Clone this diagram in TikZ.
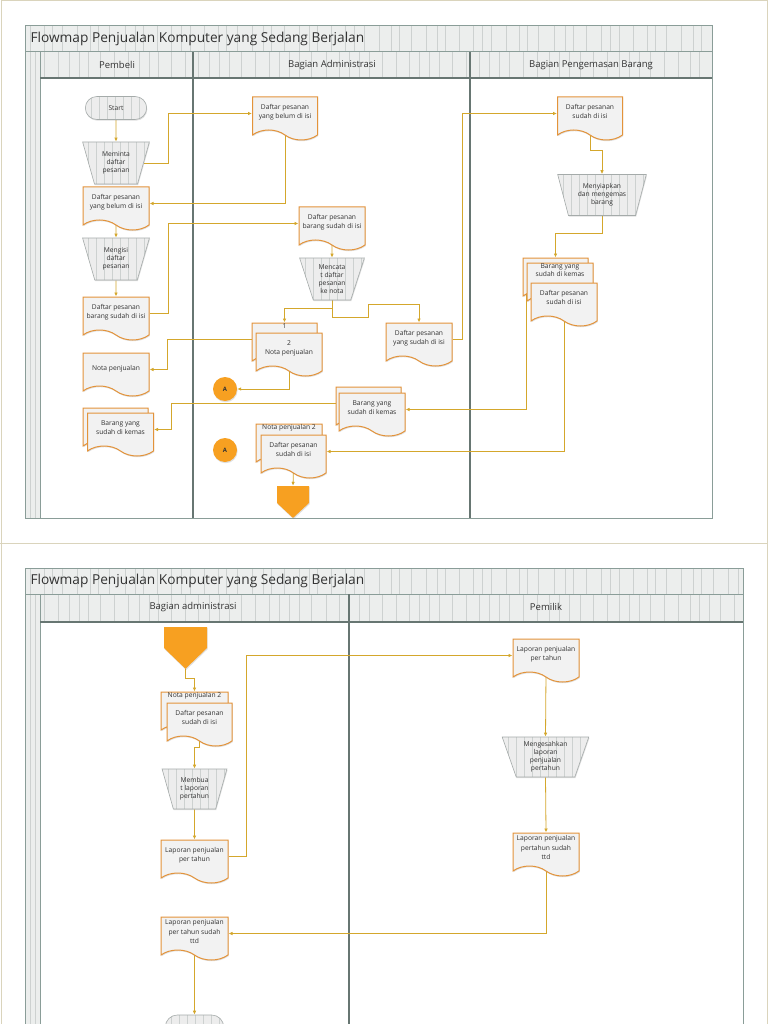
\documentclass[tikz,border=0pt]{standalone}
\usepackage{fontspec}
\setmainfont{Open Sans}
\usetikzlibrary{arrows.meta,shapes.symbols,shapes.geometric,shapes.misc,shadows,backgrounds}
\definecolor{flowline}{HTML}{D4A72C}
\definecolor{docedge}{HTML}{E3933A}
\definecolor{docfill}{HTML}{F2F2F2}
\definecolor{procedge}{HTML}{A5ABAA}
\definecolor{procfill}{HTML}{EDEDED}
\definecolor{stripe}{HTML}{CDD1D0}
\definecolor{laneedge}{HTML}{8A9D98}
\definecolor{headfill}{HTML}{ECEEED}
\definecolor{connfill}{HTML}{F7A021}
\definecolor{pageedge}{HTML}{DAD4BC}
\definecolor{inktext}{HTML}{333333}
\tikzset{
  boxtext/.style={font=\fontsize{6.7}{7.9}\selectfont, text=inktext, align=center},
  lanetext/.style={font=\fontsize{9.5}{11}\selectfont, text=inktext},
  titletext/.style={font=\fontsize{13.7}{15}\selectfont, text=inktext},
  softshadow/.style={drop shadow={shadow xshift=0.6pt, shadow yshift=-1.2pt, opacity=0.25}},
  docbox/.style={boxtext, font=\fontsize{6.7}{9.3}\selectfont, tape, tape bend top=none,
    tape bend bottom=out and in, tape bend height=10pt, draw=docedge, line width=1pt,
    fill=docfill, minimum width=66pt, minimum height=43pt, inner sep=1pt, text depth=4pt,
    softshadow},
  stripes/.style={path picture={\foreach \s in {6,14,...,90}
    \draw[stripe, line width=0.4pt] ([xshift=\s pt]path picture bounding box.south west)
      -- ([xshift=\s pt]path picture bounding box.north west);}},
  procbox/.style={boxtext, trapezium, shape border rotate=180, trapezium stretches=true,
    trapezium left angle=71, trapezium right angle=71, draw=procedge, line width=0.6pt,
    fill=procfill, minimum width=67pt, minimum height=42pt, inner sep=0pt, softshadow, stripes},
  termbox/.style={boxtext, rounded rectangle, draw=procedge, line width=0.6pt, fill=procfill,
    minimum width=68pt, minimum height=23pt, softshadow, stripes},
  connA/.style={circle, fill=connfill, minimum size=24pt, inner sep=0pt,
    font=\fontsize{6}{7}\selectfont\bfseries, text=inktext, softshadow},
  offpage/.style={signal, signal to=south, signal from=nowhere, fill=connfill,
    inner sep=0pt, softshadow},
  flow/.style={draw=flowline, line width=0.8pt, -{Latex[length=4pt,width=3.5pt]}},
  laneline/.style={draw=laneedge, line width=1pt},
  lanediv/.style={draw=laneedge!75!black, line width=1.3pt},
}
\begin{document}
\begin{tikzpicture}[x=1pt,y=-1pt]
\useasboundingbox (0,0) rectangle (768,1024);
\begin{scope}[on background layer]
\fill[white] (0,0) rectangle (768,1024);
\draw[pageedge, line width=1pt] (1,1) rectangle (767,1030);
\draw[pageedge, line width=1pt] (0,543) -- (768,543);
% first sheet
\fill[headfill] (25,26) rectangle (712,78);
\fill[headfill] (25,78) rectangle (40,518);
\foreach \i in {0,...,58} {
  \pgfmathsetmacro\xs{30+11.6*\i+2.5*sin(97*\i)}
  \draw[stripe] (\xs,26) -- (\xs,52);
}
\foreach \i in {0,...,56} {
  \pgfmathsetmacro\xs{44+11.7*\i+2.5*sin(61*\i)}
  \draw[stripe] (\xs,52) -- (\xs,78);
}
\draw[stripe] (30,52) -- (30,518);
\draw[stripe] (35,52) -- (35,518);
\draw[laneline] (25,26) rectangle (712,518);
\draw[laneline] (25,52) -- (712,52);
\draw[laneline] (40,52) -- (40,518);
\draw[lanediv] (40,78) -- (712,78);
\draw[lanediv] (193,52) -- (193,518);
\draw[lanediv] (470,52) -- (470,518);
% second sheet
\fill[headfill] (25,568) rectangle (743,622);
\fill[headfill] (25,622) rectangle (40,1030);
\foreach \i in {0,...,61} {
  \pgfmathsetmacro\xs{30+11.6*\i+2.5*sin(97*\i)}
  \draw[stripe] (\xs,568) -- (\xs,594);
}
\foreach \i in {0,...,59} {
  \pgfmathsetmacro\xs{44+11.7*\i+2.5*sin(61*\i)}
  \draw[stripe] (\xs,594) -- (\xs,622);
}
\draw[stripe] (30,594) -- (30,1030);
\draw[stripe] (35,594) -- (35,1030);
\draw[laneline] (25,568) rectangle (743,1030);
\draw[laneline] (25,594) -- (743,594);
\draw[laneline] (40,594) -- (40,1030);
\draw[lanediv] (40,622) -- (743,622);
\draw[lanediv] (349,594) -- (349,1030);
\end{scope}

\node[titletext, anchor=west] (title1) at (27,39) {Flowmap Penjualan Komputer yang Sedang Berjalan};
\node[lanetext] (pembeli) at (117,65) {Pembeli};
\node[lanetext] (admin) at (332,65) {Bagian Administrasi};
\node[lanetext] (kemas) at (591,65) {Bagian Pengemasan Barang};

% Pembeli
\node[termbox] (start) at (116,108) {Start};
\node[procbox] (meminta) at (116,163) {Meminta\\daftar\\pesanan};
\node[docbox] (dbelumP) at (116,203.5) {Daftar pesanan\\yang belum di isi};
\node[procbox] (mengisi) at (116,259) {Mengisi\\daftar\\pesanan};
\node[docbox] (dsudahP) at (116,313.5) {Daftar pesanan\\barang sudah di isi};
\node[docbox] (notaP) at (116,369.5) {Nota penjualan};
\node[docbox, minimum width=65pt] (barangPB) at (115.5,424.5) {};
\node[docbox] (barangPF) at (120.5,429.5) {Barang yang\\sudah di kemas};

% Bagian Administrasi
\node[docbox, minimum width=65pt] (dbelumA) at (285,113.5) {Daftar pesanan\\yang belum di isi};
\node[docbox] (dsudahA) at (332,223.5) {Daftar pesanan\\barang sudah di isi};
\node[procbox, minimum width=65pt] (mencatat) at (332,279) {Mencata\\t daftar\\pesanan\\ke nota};
\node[docbox, minimum width=65pt, label={[boxtext, anchor=north, inner sep=1pt]north:1}] (notaB) at (284.5,339.5) {};
\node[docbox] (notaF) at (289,349.5) {2\\Nota penjualan};
\node[docbox] (dyangA) at (419,339.5) {Daftar pesanan\\yang sudah di isi};
\node[connA] (A1) at (225,389) {A};
\node[docbox, minimum width=65pt] (barangAB) at (368.5,403.5) {};
\node[docbox] (barangAF) at (372,409.5) {Barang yang\\sudah di kemas};
\node[connA] (A2) at (225,450) {A};
\node[docbox, label={[boxtext, anchor=north, inner sep=1pt]north:Nota penjualan 2}] (nota2AB) at (289,440.5) {};
\node[docbox, minimum width=65pt] (nota2AF) at (293.5,451.5) {Daftar pesanan\\sudah di isi};
\node[offpage, minimum width=32pt, minimum height=17pt, signal pointer angle=94] (op1) at (293,494.5) {};

% Bagian Pengemasan Barang
\node[docbox, minimum width=65pt] (dsudahK) at (590,113.5) {Daftar pesanan\\sudah di isi};
\node[procbox, minimum width=89pt, minimum height=41pt] (menyiapkan) at (602,195) {Menyiapkan\\dan mengemas\\barang};
\node[docbox, minimum width=65pt] (stkB) at (555.5,274.5) {};
\node[docbox, label={[boxtext, anchor=north, inner sep=1.5pt]north:{Barang yang\\sudah di kemas}}] (stkM) at (560,279.5) {};
\node[docbox] (stkF) at (564,299.5) {Daftar pesanan\\sudah di isi};

% second sheet
\node[titletext, anchor=west] (title2) at (27,581) {Flowmap Penjualan Komputer yang Sedang Berjalan};
\node[lanetext] (admin2) at (193,607) {Bagian administrasi};
\node[lanetext] (pemilik) at (546,607) {Pemilik};

\node[offpage, minimum width=43pt, minimum height=21pt, signal pointer angle=92] (op2) at (185.5,637.5) {};
\node[docbox, minimum width=67pt, label={[boxtext, anchor=north, inner sep=1pt]north:Nota penjualan 2}] (nota2B) at (194.5,708.5) {};
\node[docbox, minimum width=65pt] (nota2F) at (199.5,719.5) {Daftar pesanan\\sudah di isi};
\node[procbox, minimum width=65pt, minimum height=40pt] (membuat) at (194.5,789) {Membua\\t laporan\\pertahun};
\node[docbox, minimum width=67pt] (lapA) at (194.5,856.5) {Laporan penjualan\\per tahun};
\node[docbox, minimum width=67pt] (ttdA) at (194.5,933.5) {Laporan penjualan\\per tahun sudah\\ttd};
\node[termbox, minimum width=65pt, minimum height=24pt] (finish) at (194.5,1027) {};

\node[docbox] (lapP) at (546,655.5) {Laporan penjualan\\per tahun};
\node[procbox, minimum width=87pt, minimum height=40pt] (mengesahkan) at (545.5,757) {Mengesahkan\\laporan\\penjualan\\pertahun};
\node[docbox] (ttdP) at (546,849.5) {Laporan penjualan\\pertahun sudah\\ttd};

\begin{scope}[on background layer]
\draw[flow] (start) -- (meminta);
\draw[flow] (meminta.east) -- ++(25,0) |- (dbelumA.west);
\draw[flow] (dbelumA.south) |- (dbelumP.east);
\draw[flow] (dbelumP.south) -- (mengisi.north);
\draw[flow] (mengisi.south) -- (dsudahP.north);
\draw[flow] (dsudahP.east) -- ++(19,0) |- (dsudahA.west);
\draw[flow] (dsudahA.south) -- (mencatat.north);
\draw[flow] (mencatat.south) -- ++(0,8) -| (notaB.north);
\draw[flow] (mencatat.south) -- ++(0,17) -- ++(36,0) -- ++(0,-13) -| (dyangA.north);
\draw[flow] (notaB.west) -- ++(-84,0) |- (notaP.east);
\draw[flow] (notaF.south) |- (A1.east);
\draw[flow] (dyangA.east) -- ++(10,0) |- (dsudahK.west);
\draw[flow] (dsudahK.south) -- ++(0,20) -| (menyiapkan.north);
\draw[flow] (menyiapkan.south) -- ++(0,18) -| (stkB.north);
\draw[flow] (stkM.west) |- (barangAF.east);
\draw[flow] (stkF.south) |- (nota2AF.east);
\draw[flow] (barangAB.west) -- ++(-164,0) |- (barangPF.east);
\draw[flow] (nota2AF.south) -- (op1.north);
\draw[flow] (op2.south) -- ++(0,9) -| (nota2B.north);
\draw[flow] (nota2F.south) -- ++(0,11) -| (membuat.north);
\draw[flow] (membuat.south) -- (lapA.north);
\draw[flow] (lapA.east) -- ++(18,0) |- (lapP.west);
\draw[flow] (lapP.south) -- (mengesahkan.north);
\draw[flow] (mengesahkan.south) -- (ttdP.north);
\draw[flow] (ttdP.south) |- (ttdA.east);
\draw[flow] (ttdA.south) -- (finish.north);
\end{scope}
\end{tikzpicture}
\end{document}
